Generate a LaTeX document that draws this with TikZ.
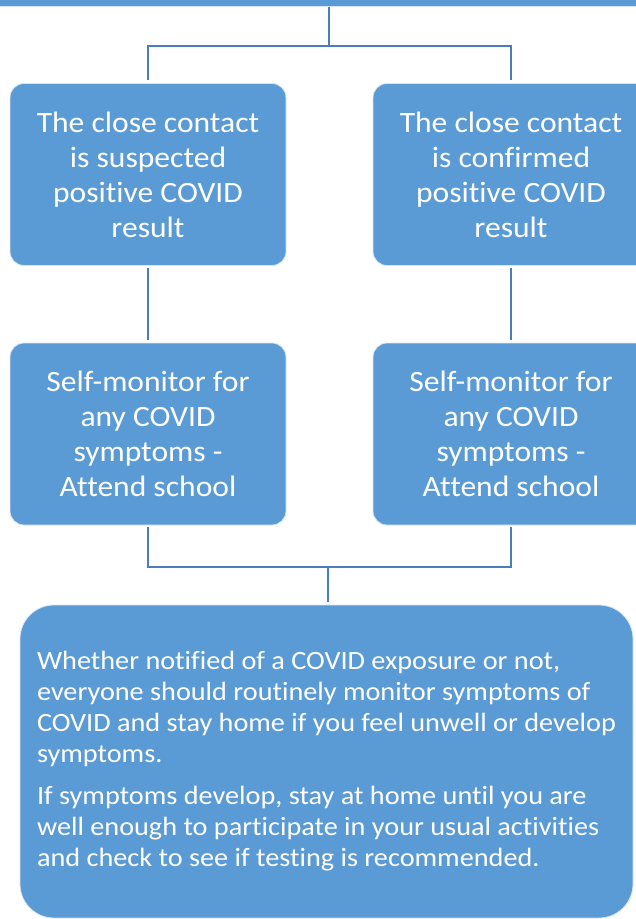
\documentclass[tikz,border=0pt]{standalone}
\usepackage{fontspec}
\setmainfont{Carlito}[FakeStretch=1.07, Ligatures=CommonOff]
\usetikzlibrary{positioning}
\definecolor{boxblue}{HTML}{5B9BD5}
\definecolor{lineblue}{HTML}{4A7EBB}

\begin{document}
\begin{tikzpicture}[x=1pt, y=-1pt,
  casebox/.style={rectangle, rounded corners=14pt, fill=boxblue, draw=white!75!boxblue, line width=0.8pt,
    text=white, align=center, minimum width=276pt, minimum height=182pt, inner sep=0pt,
    font=\fontsize{29.5}{35}\selectfont},
  advicebox/.style={casebox, rounded corners=34pt, align=left, minimum width=613pt, minimum height=313pt,
    font=\fontsize{26.4}{31}\selectfont},
  link/.style={draw=lineblue, line width=1.6pt}]
\useasboundingbox (0,0) rectangle (635,919);

% Header bar
\node[fill=boxblue, draw=white!75!boxblue, line width=0.8pt, minimum width=637pt, minimum height=7pt, inner sep=0pt] (head) at (317.5,3) {};
\coordinate (headc) at (329,7);

% Close contact cases
\node[casebox] (suspect) at (148,174.5) {The close contact\\is suspected\\positive COVID\\result};
\node[casebox] (confirm) at (511,174.5) {The close contact\\is confirmed\\positive COVID\\result};

% What to do
\node[casebox] (monA) at (148,434) {Self-monitor for\\any COVID\\symptoms -\\Attend school};
\node[casebox] (monB) at (511,434) {Self-monitor for\\any COVID\\symptoms -\\Attend school};

% Advice for everyone
\node[advicebox] (advice) at (326.5,761.5) {Whether notified of a COVID exposure or not,\\
everyone should routinely monitor symptoms of\\
COVID and stay home if you feel unwell or develop\\
symptoms.\\[11pt]
If symptoms develop, stay at home until you are\\
well enough to participate in your usual activities\\
and check to see if testing is recommended.};

% Connectors
\coordinate (split) at (329,46);
\coordinate (merge) at (328,567);
\draw[link] (headc) -- (split);
\draw[link] (split) -| ([yshift=3pt]suspect.north);
\draw[link] (split) -| ([yshift=3pt]confirm.north);
\draw[link] ([yshift=-2pt]suspect.south) -- ([yshift=3pt]monA.north);
\draw[link] ([yshift=-2pt]confirm.south) -- ([yshift=3pt]monB.north);
\draw[link] ([yshift=-2pt]monA.south) |- (merge);
\draw[link] ([yshift=-2pt]monB.south) |- (merge);
\draw[link] (merge) -- ([yshift=3pt]merge |- advice.north);
\end{tikzpicture}
\end{document}
